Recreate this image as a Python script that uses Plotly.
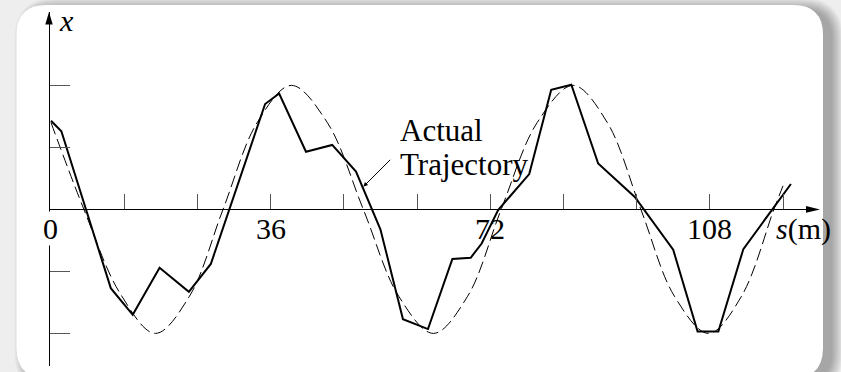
import plotly.graph_objects as go

# Actual trajectory: polyline vertices (s in metres, lateral offset x in grid units)
actual_s = [0.0, 1.7, 9.8, 13.4, 17.8, 22.6, 26.2, 35.1, 37.4, 41.8, 46.1, 50.0,
            54.0, 57.7, 61.8, 65.8, 68.8, 70.6, 73.3, 78.4, 82.0, 85.3, 89.7,
            95.7, 102.0, 106.0, 109.4, 113.5, 121.3]
actual_x = [1.43, 1.26, -1.27, -1.70, -0.94, -1.33, -0.88, 1.70, 1.87, 0.93, 1.04, 0.61,
            -0.32, -1.77, -1.93, -0.80, -0.78, -0.55, -0.01, 0.57, 1.93, 2.01, 0.74,
            0.20, -0.65, -1.97, -1.97, -0.64, 0.41]

# Desired (reference) path, smooth wave through these points
ref_s = [0.0, 5.4, 11.3, 17.1, 22.7, 28.2, 33.8, 39.4, 45.3, 51.2, 57.0, 62.7,
         68.3, 73.8, 79.7, 85.6, 91.2, 96.7, 102.2, 107.8, 113.2, 118.5, 120.0]
ref_x = [1.40, 0.0, -1.35, -2.0, -1.4, 0.0, 1.4, 2.0, 1.4, 0.0, -1.4, -2.0,
         -1.4, 0.0, 1.4, 2.0, 1.4, 0.0, -1.4, -2.0, -1.4, 0.0, 0.38]

# Axis ticks and the labelled positions along s
s_ticks = [12, 24, 36, 48, 60, 72, 84, 96, 108, 120]
s_labels = [0, 36, 72, 108]
x_ticks = [-2, -1, 1, 2]

W, H = 841, 372
ML, MR, MT, MB = 49, 29, 12, 6
PW, PH = W - ML - MR, H - MT - MB
SERIF = "Liberation Serif, Times New Roman, serif"
LABEL_Y = -0.31


def paper(px, py):
    return (px - ML) / PW, (H - MB - py) / PH


def rounded_rect(l, t, r, b, rad):
    pts = [("M", [(l + rad, t)]), ("L", [(r - rad, t)]), ("Q", [(r, t), (r, t + rad)]),
           ("L", [(r, b - rad)]), ("Q", [(r, b), (r - rad, b)]), ("L", [(l + rad, b)]),
           ("Q", [(l, b), (l, b - rad)]), ("L", [(l, t + rad)]), ("Q", [(l, t), (l + rad, t)])]
    out = []
    for cmd, coords in pts:
        out.append(cmd + " " + " ".join("%.5f,%.5f" % paper(x, y) for x, y in coords))
    return " ".join(out) + " Z"


def triangle(p1, p2, p3):
    a, b, c = paper(*p1), paper(*p2), paper(*p3)
    return "M %.5f,%.5f L %.5f,%.5f L %.5f,%.5f Z" % (a + b + c)


fig = go.Figure()

fig.add_trace(go.Scatter(
    x=ref_s, y=ref_x, mode="lines",
    line=dict(color="black", width=1, dash="12px,5px", shape="spline", smoothing=1.0),
    hoverinfo="skip", showlegend=False))

fig.add_trace(go.Scatter(
    x=actual_s, y=actual_x, mode="lines",
    line=dict(color="black", width=2),
    hoverinfo="skip", showlegend=False))

shapes = []
# soft drop shadow behind the card
for i in range(12):
    shapes.append(dict(type="path", xref="paper", yref="paper", layer="below",
                       path=rounded_rect(16.5 + 9 - i, 5 + 4 - i, 823 + 9 + i, 378 + 4 + i, 30 + i),
                       fillcolor="rgba(0,0,0,0.028)", line=dict(width=0)))
# white card
shapes.append(dict(type="path", xref="paper", yref="paper", layer="below",
                   path=rounded_rect(16.5, 5, 823, 378, 30),
                   fillcolor="white", line=dict(width=0)))
# axis arrow heads
shapes.append(dict(type="path", xref="paper", yref="paper", layer="above",
                   path=triangle((49, 12), (45.3, 24.5), (52.7, 24.5)),
                   fillcolor="black", line=dict(width=0)))
shapes.append(dict(type="path", xref="paper", yref="paper", layer="above",
                   path=triangle((820, 209.4), (806, 206.1), (806, 212.7)),
                   fillcolor="black", line=dict(width=0)))

tick_font = dict(family=SERIF, size=30, color="black")
annotations = [
    dict(x=0.98, y=3.04, xref="x", yref="y", text="<i>x</i>", showarrow=False,
         xanchor="left", yanchor="middle", font=tick_font),
    dict(x=123.4, y=LABEL_Y, xref="x", yref="y", text="<i>s</i>(m)", showarrow=False,
         xanchor="center", yanchor="middle", font=tick_font),
    dict(x=56.9, y=1.27, xref="x", yref="y", text="Actual", showarrow=False,
         xanchor="left", yanchor="middle", font=dict(family=SERIF, size=31, color="black")),
    dict(x=56.9, y=0.72, xref="x", yref="y", text="Trajectory", showarrow=False,
         xanchor="left", yanchor="middle", font=dict(family=SERIF, size=31, color="black")),
    dict(x=51.2, y=0.366, ax=55.85, ay=0.824, xref="x", yref="y", axref="x", ayref="y",
         text="", showarrow=True, arrowhead=2, arrowsize=0.9, arrowwidth=1, arrowcolor="black"),
]
for v in s_labels:
    annotations.append(dict(x=v - (0.16 if v == 0 else 0), y=LABEL_Y, xref="x", yref="y",
                            text=str(v), showarrow=False, xanchor="center", yanchor="middle",
                            bgcolor="white" if v == 0 else None, borderpad=0, font=tick_font))

fig.update_layout(
    width=W, height=H,
    margin=dict(l=ML, r=MR, t=MT, b=MB, pad=0),
    paper_bgcolor="#eeeeee", plot_bgcolor="rgba(0,0,0,0)",
    showlegend=False,
    shapes=shapes, annotations=annotations,
    xaxis=dict(range=[-2 / 6.1, (812 - 51) / 6.1], anchor="free", position=(H - MB - 209.4) / PH,
               showline=True, linecolor="black", linewidth=1,
               ticks="inside", ticklen=15, tickwidth=1, tickcolor="#555",
               tickvals=s_ticks, showticklabels=False,
               showgrid=False, zeroline=False, fixedrange=True),
    yaxis=dict(range=[(209.4 - 366) / 62, (209.4 - 12) / 62], anchor="free", position=0,
               showline=True, linecolor="black", linewidth=1,
               ticks="inside", ticklen=20, tickwidth=1, tickcolor="#555",
               tickvals=x_ticks, showticklabels=False,
               showgrid=False, zeroline=False, fixedrange=True),
)

fig.write_html("out.html")
